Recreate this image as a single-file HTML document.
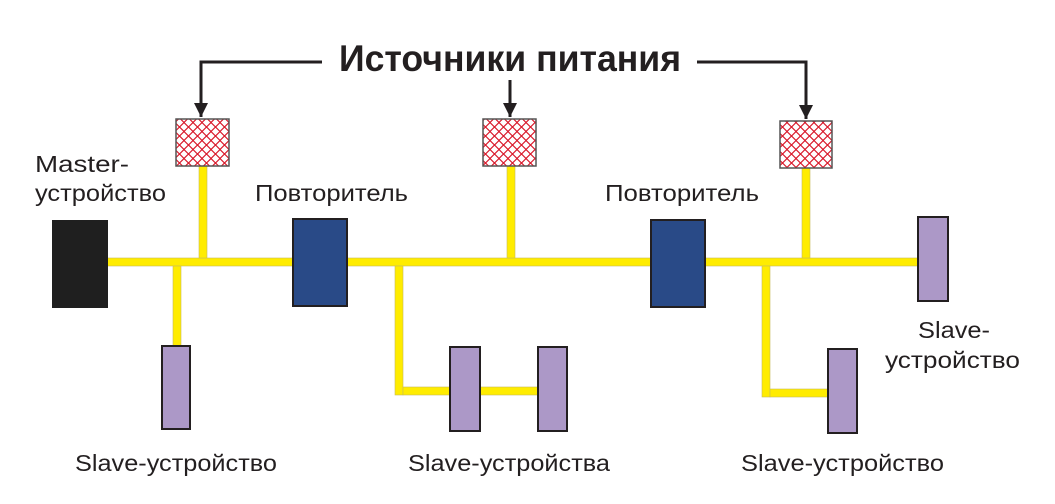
<!DOCTYPE html>
<html><head><meta charset="utf-8"><style>
html,body{margin:0;padding:0;background:#fff;}
svg{display:block;}
text{font-family:"Liberation Sans","DejaVu Sans",sans-serif;fill:#231f20;}
</style></head><body>
<svg width="1055" height="504" viewBox="0 0 1055 504" xmlns="http://www.w3.org/2000/svg">
<defs>
<pattern id="hx" width="9" height="9" patternUnits="userSpaceOnUse" x="175" y="118">
<rect width="9" height="9" fill="#fff"/>
<path d="M0 4.5 L4.5 0 L9 4.5 L4.5 9 Z" fill="none" stroke="#d9182a" stroke-width="1.2"/>
</pattern>
<marker id="ar" viewBox="0 0 10 10" refX="10" refY="5" markerWidth="18" markerHeight="14" markerUnits="userSpaceOnUse" orient="auto">
<path d="M0 0 L10 5 L0 10 Z" fill="#231f20"/>
</marker>
</defs>
<text x="339" y="71" font-size="37" font-weight="bold" textLength="342" lengthAdjust="spacingAndGlyphs">Источники питания</text>
<g stroke="#231f20" stroke-width="3" fill="none">
<polyline points="322,62 201,62 201,117" marker-end="url(#ar)"/>
<polyline points="697,62 806,62 806,119" marker-end="url(#ar)"/>
<polyline points="510,80 510,117" marker-end="url(#ar)"/>
</g>
<g fill="#ffec00" stroke="#c8bb5a" stroke-width="0.6">
<rect x="105" y="258" width="815" height="8"/>
<rect x="199" y="165" width="8" height="93"/>
<rect x="507" y="165" width="8" height="93"/>
<rect x="802" y="167" width="8" height="91"/>
<rect x="173" y="266" width="8" height="82"/>
<rect x="395" y="266" width="8" height="129"/>
<rect x="403" y="387" width="140" height="8"/>
<rect x="762" y="266" width="8" height="131"/>
<rect x="770" y="389" width="60" height="8"/>
</g>
<g stroke="#231f20" stroke-width="2">
<rect x="176" y="119" width="53" height="47" fill="url(#hx)" stroke="#555" stroke-width="1.5"/>
<rect x="483" y="119" width="53" height="47" fill="url(#hx)" stroke="#555" stroke-width="1.5"/>
<rect x="780" y="121" width="52" height="47" fill="url(#hx)" stroke="#555" stroke-width="1.5"/>
<rect x="52" y="220" width="56" height="88" fill="#1f1f1f" stroke="none"/>
<rect x="293" y="219" width="54" height="87" fill="#294a87"/>
<rect x="651" y="220" width="54" height="87" fill="#294a87"/>
<rect x="162" y="346" width="28" height="83" fill="#ac98c7"/>
<rect x="450" y="347" width="30" height="84" fill="#ac98c7"/>
<rect x="538" y="347" width="29" height="84" fill="#ac98c7"/>
<rect x="828" y="349" width="29" height="84" fill="#ac98c7"/>
<rect x="918" y="217" width="30" height="84" fill="#ac98c7"/>
</g>
<g font-size="23">
<text x="35" y="172" textLength="94" lengthAdjust="spacingAndGlyphs">Master-</text>
<text x="35" y="201" textLength="131" lengthAdjust="spacingAndGlyphs">устройство</text>
<text x="255" y="201" textLength="153" lengthAdjust="spacingAndGlyphs">Повторитель</text>
<text x="605" y="201" textLength="154" lengthAdjust="spacingAndGlyphs">Повторитель</text>
<text x="918" y="338" textLength="72" lengthAdjust="spacingAndGlyphs">Slave-</text>
<text x="885" y="368" textLength="135" lengthAdjust="spacingAndGlyphs">устройство</text>
<text x="75" y="471" textLength="202" lengthAdjust="spacingAndGlyphs">Slave-устройство</text>
<text x="408" y="471" textLength="202" lengthAdjust="spacingAndGlyphs">Slave-устройства</text>
<text x="741" y="471" textLength="203" lengthAdjust="spacingAndGlyphs">Slave-устройство</text>
</g>
</svg>
</body></html>
